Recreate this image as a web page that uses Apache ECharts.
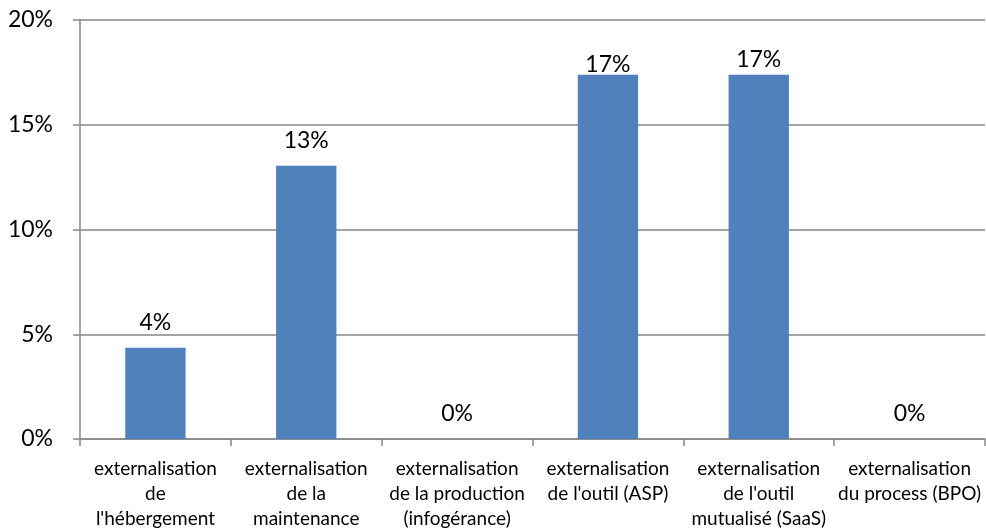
<!DOCTYPE html>
<html>
<head>
<meta charset="utf-8">
<script src="https://cdn.jsdelivr.net/npm/echarts@6/dist/echarts.min.js"></script>
<style>
  html, body { margin: 0; padding: 0; background: #fff; }
  #chart { width: 986px; height: 531px; }
</style>
</head>
<body>
<div id="chart"></div>
<script>
// Share of respondents per outsourcing type (percent)
const categories = [
  "externalisation\nde\nl'hébergement",
  "externalisation\nde la\nmaintenance",
  "externalisation\nde la production\n(infogérance)",
  "externalisation\nde l'outil (ASP)",
  "externalisation\nde l'outil\nmutualisé (SaaS)",
  "externalisation\ndu process (BPO)"
];
const values = [4.35, 13.04, 0, 17.39, 17.39, 0];
const yTicks = [0, 5, 10, 15, 20];

const FONT = 'Lato, "Open Sans", sans-serif';

// label gap above each bar (the two tallest sit closer to the top gridline)
const labelGaps = [14, 14, 14, -1, 4, 14];

const chart = echarts.init(document.getElementById('chart'), null, { renderer: 'canvas' });
chart.setOption({
  animation: false,
  grid: { left: 80, right: 1, top: 20, bottom: 92, containLabel: false },
  xAxis: {
    type: 'category',
    data: categories,
    axisLine: { lineStyle: { color: '#868686', width: 1.5 } },
    axisTick: { show: true, length: 7, lineStyle: { color: '#868686', width: 1.5 } },
    axisLabel: {
      interval: 0,
      color: '#000',
      fontFamily: FONT,
      fontSize: 19,
      lineHeight: 25,
      margin: 17
    }
  },
  yAxis: {
    type: 'value',
    min: yTicks[0],
    max: yTicks[yTicks.length - 1],
    interval: 5,
    axisLine: { show: true, lineStyle: { color: '#868686', width: 1.5 } },
    axisTick: { show: true, length: 7, lineStyle: { color: '#868686', width: 1.5 } },
    splitLine: { lineStyle: { color: '#868686', width: 1.5 } },
    axisLabel: {
      color: '#000',
      fontFamily: FONT,
      fontSize: 23,
      margin: 27,
      formatter: v => v + '%'
    }
  },
  series: [{
    type: 'bar',
    barWidth: '40%',
    itemStyle: { color: '#4F81BD' },
    data: values.map((v, i) => ({
      value: v,
      label: { distance: labelGaps[i] }
    })),
    label: {
      show: true,
      position: 'top',
      color: '#000',
      fontFamily: FONT,
      fontSize: 23,
      formatter: p => Math.round(p.value) + '%'
    }
  }]
});
</script>
</body>
</html>
